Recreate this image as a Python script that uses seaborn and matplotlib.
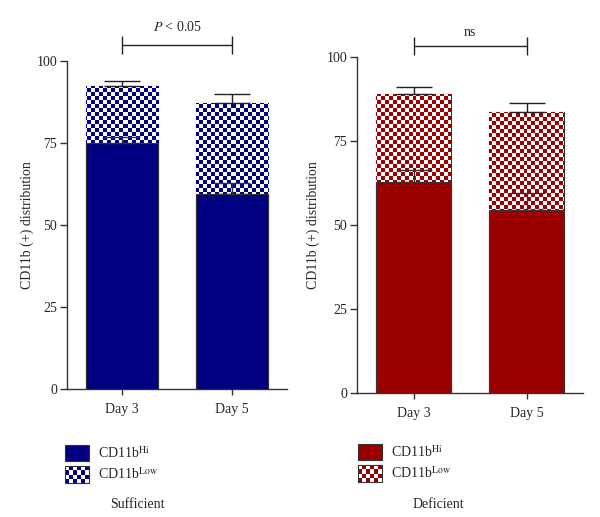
import numpy as np
import pandas as pd
import matplotlib
matplotlib.use("Agg")
import matplotlib.pyplot as plt
import seaborn as sns
from matplotlib.colors import ListedColormap
from matplotlib.patches import Patch, Rectangle
from matplotlib.legend_handler import HandlerBase

# values (mean, upper SEM)
days = ["Day 3", "Day 5"]
suff_hi = [75.0, 59.4]
suff_hi_err = [1.9, 3.5]
suff_total = [92.4, 87.2]
suff_total_err = [1.6, 2.8]
def_hi = [62.9, 54.4]
def_hi_err = [3.5, 5.2]
def_total = [89.0, 83.5]
def_total_err = [2.2, 2.9]
y_ticks = [0, 25, 50, 75, 100]
legend_labels = [r"CD11b$^{\mathrm{Hi}}$", r"CD11b$^{\mathrm{Low}}$"]
groups = ["Sufficient", "Deficient"]
sig_labels = [r"$P$ < 0.05", "ns"]

NAVY = "#000080"
RED = "#9b0000"
EDGE = "#333333"

sns.set_style("ticks")
plt.rcParams["font.family"] = ["Liberation Serif", "DejaVu Serif"]
plt.rcParams["mathtext.fontset"] = "stix"
plt.rcParams["font.size"] = 10


class CheckerHandler(HandlerBase):
    """legend swatch with a checkerboard fill"""
    def __init__(self, color, ncols=6, nrows=4):
        super().__init__()
        self.color = color
        self.ncols = ncols
        self.nrows = nrows

    def create_artists(self, legend, orig_handle, xdescent, ydescent,
                       width, height, fontsize, trans):
        x0, y0 = -xdescent, -ydescent
        arts = [Rectangle((x0, y0), width, height, facecolor="white",
                          lw=0, transform=trans)]
        cw, ch = width / self.ncols, height / self.nrows
        for i in range(self.nrows):
            for j in range(self.ncols):
                if (i + j) % 2 == 0:
                    arts.append(Rectangle((x0 + j * cw, y0 + i * ch), cw, ch,
                                          facecolor=self.color, lw=0,
                                          transform=trans))
        arts.append(Rectangle((x0, y0), width, height, fill=False,
                              edgecolor=EDGE, lw=0.8, transform=trans))
        return arts


def draw_panel(ax, hi, hi_err, total, total_err, color):
    df = pd.DataFrame({"day": days, "hi": hi, "total": total})
    # full stack (low part on top) then the Hi part over it
    sns.barplot(data=df, x="day", y="total", color="white", saturation=1,
                width=0.66, edgecolor=EDGE, linewidth=0.8, ax=ax, zorder=1)
    n_low = len(ax.patches)
    sns.barplot(data=df, x="day", y="hi", color=color, saturation=1,
                width=0.66, edgecolor=EDGE, linewidth=0.8, ax=ax, zorder=3)
    ax.set_xlim(-0.5, 1.5)
    ax.set_ylim(0, 100)

    # checkerboard for the Low part, clipped to each bar
    fig = ax.figure
    fig.canvas.draw()
    bb = ax.get_window_extent()
    nx, ny = round(bb.width / 4), round(bb.height / 4)
    checker = (np.add.outer(np.arange(ny), np.arange(nx)) % 2)
    cmap = ListedColormap(["white", color])
    for p in ax.patches[:n_low]:
        im = ax.imshow(checker, extent=(-0.5, 1.5, 0, 100), aspect="auto",
                       interpolation="nearest", cmap=cmap, zorder=2,
                       origin="lower")
        im.set_clip_path(p)
    ax.set_xlim(-0.5, 1.5)
    ax.set_ylim(0, 100)

    x = np.arange(len(days))
    ax.errorbar(x, total, yerr=[np.zeros(len(x)), total_err], fmt="none",
                ecolor="#222222", elinewidth=1, capsize=13, capthick=1,
                zorder=4)
    ax.errorbar(x, hi, yerr=[np.zeros(len(x)), hi_err], fmt="none",
                ecolor="#333333", elinewidth=1, capsize=13, capthick=1,
                zorder=4)

    ax.set_yticks(y_ticks)
    ax.set_xlabel("")
    ax.set_ylabel("CD11b (+) distribution")
    sns.despine(ax=ax)
    for s in ("left", "bottom"):
        ax.spines[s].set_color(EDGE)
        ax.spines[s].set_linewidth(1.0)
    ax.tick_params(axis="y", length=5, width=1, color=EDGE, pad=2)
    ax.tick_params(axis="x", length=4, width=1, color=EDGE, pad=6)


fig = plt.figure(figsize=(6, 5.17), dpi=100)
ax1 = fig.add_axes([0.1117, 0.2476, 0.3667, 0.6344])
ax2 = fig.add_axes([0.595, 0.2398, 0.3767, 0.65])

draw_panel(ax1, suff_hi, suff_hi_err, suff_total, suff_total_err, NAVY)
draw_panel(ax2, def_hi, def_hi_err, def_total, def_total_err, RED)
ax1.yaxis.set_label_coords(-0.15, 0.5)
ax2.yaxis.set_label_coords(-0.164, 0.5)

# significance brackets
for ax, y_line, y_txt, lab in [(ax1, 105, 110.3, sig_labels[0]),
                               (ax2, 103.3, 107.4, sig_labels[1])]:
    ax.plot([0, 1], [y_line, y_line], color="#222222", lw=1, marker="|",
            markersize=13, markeredgewidth=1, clip_on=False)
    ax.text(0.5, y_txt, lab, ha="center", va="center", clip_on=False)

# legends under each panel
for color, x0, y0, grp, xg in [(NAVY, 65, 445, groups[0], 137),
                               (RED, 358, 444, groups[1], 438)]:
    hi_h = Patch(facecolor=color, edgecolor=EDGE, lw=0.8)
    low_h = Patch(facecolor="white", edgecolor=EDGE)
    fig.legend([hi_h, low_h], legend_labels, loc="upper left",
               bbox_to_anchor=(x0 / 600, 1 - y0 / 517), frameon=False,
               borderpad=0, borderaxespad=0, handlelength=1.75,
               handleheight=1.45, handletextpad=0.6, labelspacing=0.35,
               handler_map={low_h: CheckerHandler(color)})
    fig.text(xg / 600, 1 - 504 / 517, grp, ha="center", va="center")

fig.savefig("out.png", dpi=100)
